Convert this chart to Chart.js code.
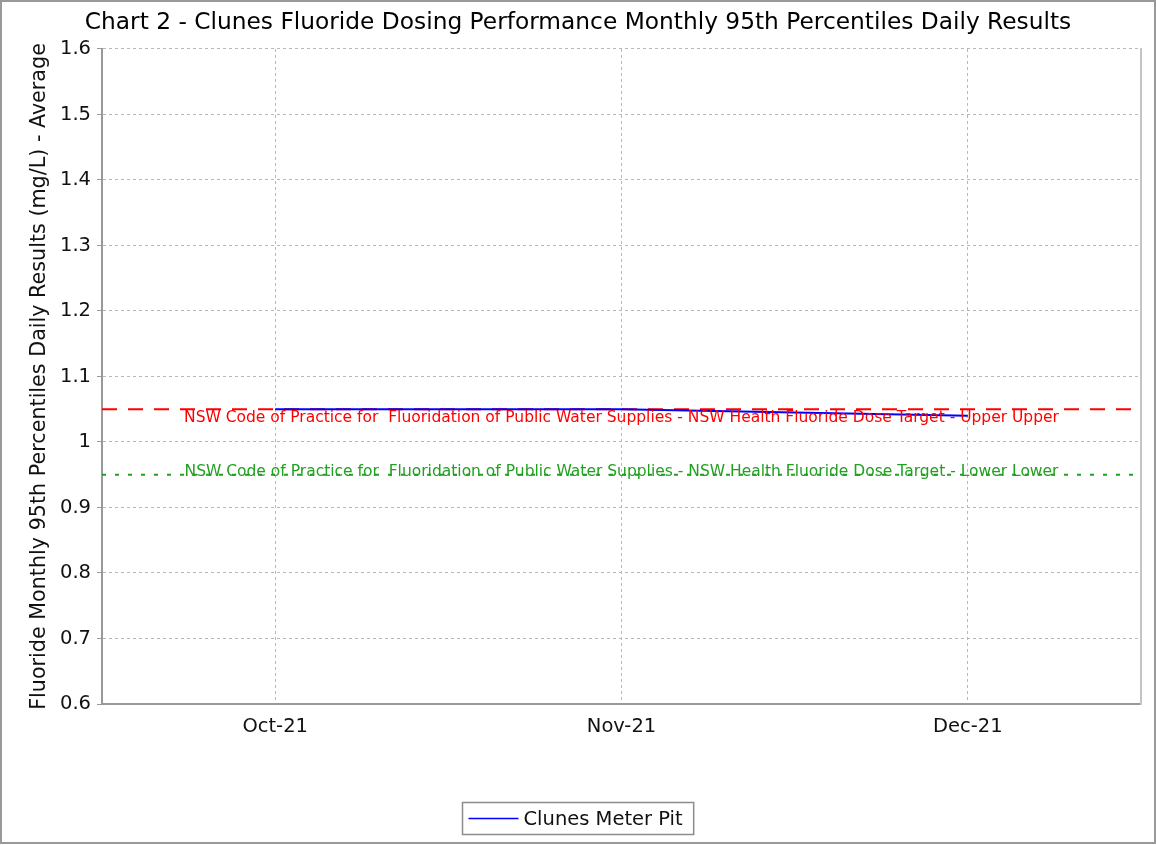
<!DOCTYPE html>
<html>
<head>
<meta charset="utf-8">
<script src="https://cdn.jsdelivr.net/npm/chart.js@4.4.1/dist/chart.umd.min.js"></script>
<style>
  html, body { margin: 0; padding: 0; background: #fff; }
</style>
</head>
<body>
<canvas id="myChart" width="1156" height="845"></canvas>
<script>
// data
const months = ['Oct-21', 'Nov-21', 'Dec-21'];
const meterPit = [1.05, 1.05, 1.04];
const yTicks = [0.6, 0.7, 0.8, 0.9, 1.0, 1.1, 1.2, 1.3, 1.4, 1.5, 1.6];
const upperTarget = 1.05;
const lowerTarget = 0.95;
const upperText = 'NSW Code of Practice for  Fluoridation of Public Water Supplies - NSW Health Fluoride Dose Target - Upper Upper';
const lowerText = 'NSW Code of Practice for  Fluoridation of Public Water Supplies - NSW Health Fluoride Dose Target - Lower Lower';

const xMin = -0.5, xMax = months.length - 0.5;
const FONT = '"DejaVu Sans", Verdana, sans-serif';

document.addEventListener("DOMContentLoaded", function () {

    // white background + grey outer frame
    const frame = {
        id: 'frame',
        beforeDraw(chart) {
            const ctx = chart.ctx;
            ctx.save();
            ctx.fillStyle = '#fff';
            ctx.fillRect(0, 0, chart.width, chart.height);
            ctx.strokeStyle = '#999';
            ctx.lineWidth = 2;
            ctx.strokeRect(1, 1, chart.width - 2, chart.height - 3);
            ctx.restore();
        }
    };

    // target labels
    const markers = {
        id: 'markers',
        afterDatasetsDraw(chart) {
            const ctx = chart.ctx, a = chart.chartArea, y = chart.scales.y;
            ctx.save();
            const cx = (a.left + a.right) / 2;
            ctx.font = '15.5px ' + FONT;
            ctx.textAlign = 'center';
            ctx.textBaseline = 'alphabetic';
            ctx.fillStyle = '#ff0000';
            ctx.fillText(upperText, cx, y.getPixelForValue(upperTarget) + 13);
            ctx.fillStyle = '#22a022';
            ctx.fillText(lowerText, cx, y.getPixelForValue(lowerTarget) + 1);
            ctx.restore();
        }
    };

    // boxed legend under the chart
    const legendBox = {
        id: 'legendBox',
        afterDraw(chart) {
            const ctx = chart.ctx;
            const ds = chart.data.datasets[0];
            ctx.save();
            ctx.font = '19.5px ' + FONT;
            const tw = ctx.measureText(ds.label).width;
            const w = 6 + 50 + 5 + tw + 11;
            const x0 = Math.round(chart.width / 2 - w / 2) + 0.5;
            const y0 = 802.5, h = 32;
            ctx.strokeStyle = '#8c8c8c';
            ctx.lineWidth = 1.5;
            ctx.strokeRect(x0, y0, w, h);
            ctx.strokeStyle = ds.borderColor;
            ctx.lineWidth = 1.5;
            ctx.beginPath();
            ctx.moveTo(x0 + 6, y0 + 16);
            ctx.lineTo(x0 + 56, y0 + 16);
            ctx.stroke();
            ctx.fillStyle = '#111';
            ctx.textBaseline = 'middle';
            ctx.textAlign = 'left';
            ctx.fillText(ds.label, x0 + 61, y0 + 17);
            ctx.restore();
        }
    };

    const ctx = document.getElementById('myChart').getContext('2d');
    new Chart(ctx, {
        type: 'line',
        data: {
            datasets: [{
                label: 'Clunes Meter Pit',
                data: months.map((m, i) => ({ x: i, y: meterPit[i] })),
                borderColor: '#0000ff',
                backgroundColor: '#0000ff',
                borderWidth: 2,
                pointRadius: 0,
                tension: 0
            }, {
                label: 'Upper',
                data: [{ x: xMin, y: upperTarget }, { x: xMax, y: upperTarget }],
                borderColor: '#ff0000',
                borderWidth: 2,
                borderDash: [15, 11],
                pointRadius: 0
            }, {
                label: 'Lower',
                data: [{ x: xMin, y: lowerTarget }, { x: xMax, y: lowerTarget }],
                borderColor: '#22a022',
                borderWidth: 2,
                borderDash: [4, 9],
                pointRadius: 0
            }]
        },
        options: {
            responsive: false,
            animation: false,
            layout: { padding: 0 },
            plugins: {
                legend: { display: false },
                tooltip: { enabled: false },
                title: {
                    display: true,
                    text: 'Chart 2 - Clunes Fluoride Dosing Performance Monthly 95th Percentiles Daily Results',
                    color: '#000',
                    font: { family: FONT, size: 23.3, weight: 'normal' },
                    padding: { top: 8.5, bottom: 12.5 }
                }
            },
            scales: {
                x: {
                    type: 'linear',
                    min: xMin,
                    max: xMax,
                    afterBuildTicks: s => { s.ticks = months.map((m, i) => ({ value: i })); },
                    afterFit: s => { s.height = 141; },
                    ticks: {
                        callback: v => months[Math.round(v)],
                        color: '#111',
                        font: { family: FONT, size: 19.5 },
                        padding: 11,
                        maxRotation: 0
                    },
                    grid: { color: '#b8b8b8', drawTicks: false },
                    border: { color: '#999', width: 2, dash: [3, 3] }
                },
                y: {
                    min: 0.6,
                    max: 1.6,
                    afterBuildTicks: s => { s.ticks = yTicks.map(v => ({ value: v })); },
                    afterFit: s => { s.width = 102; },
                    ticks: {
                        callback: v => String(+v.toFixed(1)),
                        color: '#111',
                        font: { family: FONT, size: 19.5 },
                        padding: 6
                    },
                    grid: { color: '#b8b8b8', tickLength: 5, tickColor: '#999', tickBorderDash: [] },
                    border: { color: '#999', width: 2, dash: [3, 3] },
                    title: {
                        display: true,
                        text: 'Fluoride Monthly 95th Percentiles Daily Results (mg/L) - Average',
                        color: '#111',
                        font: { family: FONT, size: 20.7 },
                        padding: { top: 27.6, bottom: 0 }
                    }
                },
                // empty right-hand axis: keeps the 15px margin and draws the plot's right edge
                yRight: {
                    position: 'right',
                    min: 0,
                    max: 1,
                    afterFit: s => { s.width = 15; },
                    ticks: { display: false },
                    grid: { display: false, drawTicks: false },
                    border: { display: true, color: '#c4c4c4', width: 2 }
                }
            }
        },
        plugins: [frame, markers, legendBox]
    });
});
</script>
</body>
</html>
